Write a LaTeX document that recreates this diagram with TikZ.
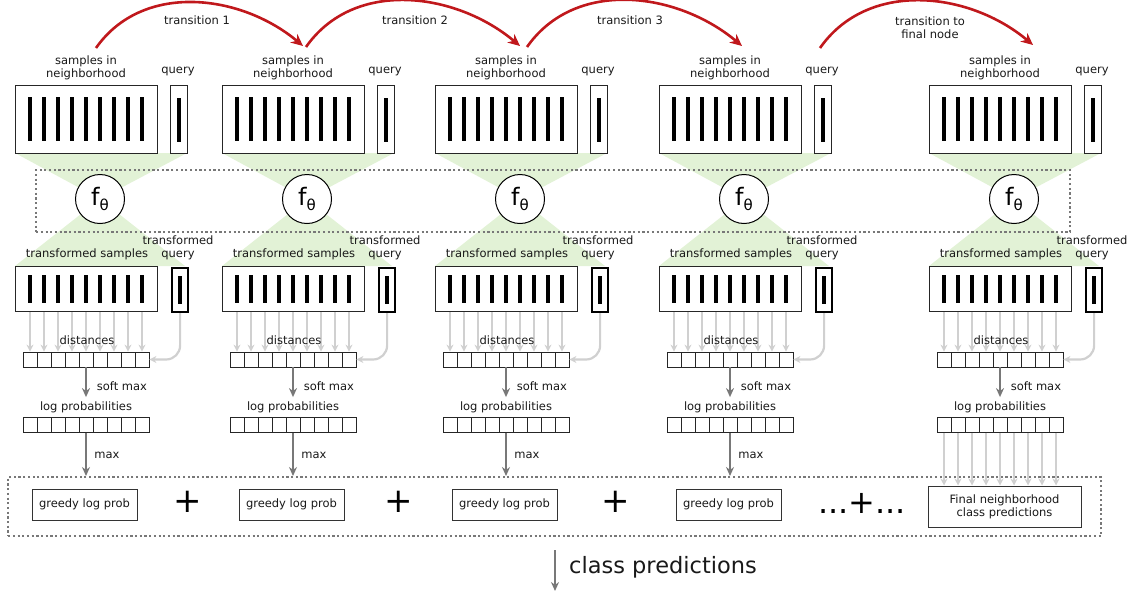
\documentclass[tikz,border=0pt]{standalone}
\usepackage{fontspec}
\setmainfont{DejaVu Sans}
\usetikzlibrary{arrows.meta}
\definecolor{gfill}{RGB}{226,242,214}
\definecolor{redarc}{RGB}{192,24,28}
\definecolor{dgray}{RGB}{120,120,120}
\definecolor{lgray}{RGB}{208,208,208}
\definecolor{txt}{RGB}{25,25,25}
\begin{document}
\begin{tikzpicture}[x=1pt,y=-1pt,font=\fontsize{11.5}{13}\selectfont,
  lbl/.style={text=txt,inner sep=0pt,align=center},
  sbox/.style={draw=black!85,line width=1pt,fill=white,minimum width=142pt,minimum height=68pt,inner sep=0pt,anchor=north west},
  qbox/.style={draw=black!85,line width=1pt,fill=white,minimum width=17pt,minimum height=68pt,inner sep=0pt,anchor=north west},
  tbox/.style={sbox,minimum height=45pt},
  tqbox/.style={draw=black,line width=2.2pt,fill=white,minimum width=16pt,minimum height=44pt,inner sep=0pt,anchor=north west},
  bar/.style={fill=black,inner sep=0pt,minimum width=4.7pt,minimum height=44pt},
  cell/.style={draw=black!85,line width=0.8pt,minimum width=14pt,minimum height=15pt,inner sep=0pt},
  fnode/.style={circle,draw=black,line width=1pt,fill=white,minimum size=49pt,inner sep=0pt},
  gbox/.style={draw=black!80,line width=1pt,fill=white,minimum width=105pt,minimum height=31pt,inner sep=0pt,text=txt},
  dotbox/.style={draw=dgray,line width=2.2pt,dash pattern=on 2.2pt off 2.5pt,inner sep=0pt,anchor=north west},
  darrow/.style={draw=dgray,line width=2.5pt,-{Stealth[length=9pt,width=8pt]}},
  larrow/.style={draw=lgray,line width=2.2pt,-{Stealth[length=7pt,width=7pt]}},
  rarrow/.style={draw=redarc,line width=2.6pt,-{Stealth[length=12pt,width=11pt]}},
  plusnode/.style={text=black,inner sep=0pt,font=\fontsize{34}{34}\selectfont},
]
\useasboundingbox (0,0) rectangle (1131,592);
% green hourglasses
\foreach \x/\i in {15/1,222/2,435/3,659/4,929/5} {
  \fill[gfill] (\x,153) -- ({\x+172},153) -- ({\x+85},199) -- cycle;
  \fill[gfill] ({\x+85},199) -- (\x,266) -- ({\x+170},266) -- cycle;
}
% dotted band around f_theta
\node[dotbox,minimum width=1034pt,minimum height=62pt] (fband) at (35,169) {};
% bottom dotted box
\node[dotbox,minimum width=1093pt,minimum height=59pt] (fbot) at (7,476) {};
\foreach \x/\i in {15/1,222/2,435/3,659/4,929/5} {
  \node[sbox] (s\i) at (\x,85) {};
  \node[qbox] (q\i) at ({\x+155},85) {};
  \foreach \j in {0,...,8}
    \node[bar] (sb\i-\j) at ({\x+15+14*\j},119) {};
  \node[bar,minimum width=4pt] (qb\i) at (q\i.center) {};
  \node[lbl] (sl\i) at ({\x+71},67.5) {samples in\\neighborhood};
  \node[lbl] (ql\i) at ({\x+163},71) {query};
  \node[fnode] (f\i) at ({\x+85},199) {\fontsize{24}{24}\selectfont f\raisebox{-5pt}{\fontsize{15}{15}\selectfont θ}};
  \node[tbox] (t\i) at (\x,266) {};
  \node[tqbox] (tq\i) at ({\x+156},267) {};
  \foreach \j in {0,...,8}
    \node[bar,minimum height=28pt] (tb\i-\j) at ({\x+15+14*\j},289) {};
  \node[bar,minimum width=4pt,minimum height=28pt] (tqb\i) at (tq\i.center) {};
  \node[lbl] (tl\i) at ({\x+72},254) {transformed samples};
  \node[lbl] (tql\i) at ({\x+163},248) {transformed\\query};
  \foreach \j in {0,...,8} {
    \node[cell] (d\i-\j) at ({\x+15+14*\j},359.5) {};
    \node[cell] (l\i-\j) at ({\x+15+14*\j},425) {};
    \draw[larrow] (tb\i-\j.south |- t\i.south) -- (d\i-\j.north);
  }
  \draw[larrow,rounded corners=14pt] (tq\i.south) |- (d\i-8.east);
  \node[lbl] (dl\i) at ({\x+72},340) {distances};
  \draw[darrow,shorten >=20pt] (d\i-4.south) -- (l\i-4.north);
  \node[lbl] (sm\i) at ({\x+107},386) {soft max};
  \node[lbl] (lp\i) at ({\x+71},407) {log probabilities};
}
% greedy boxes and max arrows
\foreach \x/\i in {15/1,222/2,435/3,659/4} {
  \node[gbox] (g\i) at ({\x+69.5},504.5) {greedy log prob};
  \draw[darrow] (l\i-4.south) -- (l\i-4.south |- fbot.north);
  \node[lbl] (mx\i) at ({\x+92},455) {max};
}
\node[gbox,minimum width=153pt,minimum height=41pt,align=center] (final) at (1004.5,506.5) {Final neighborhood\\class predictions};
\foreach \j in {0,...,8}
  \draw[larrow] (l5-\j.south) -- (l5-\j.south |- final.north);
% plus signs
\node[plusnode] (p1) at (188,502) {+};
\node[plusnode] (p2) at (399,502) {+};
\node[plusnode] (p3) at (616,502) {+};
\node[plusnode,font=\fontsize{32}{32}\selectfont] (p4) at (862,503) {...+...};
% class predictions
\coordinate (cpa) at (555,550);
\coordinate (cpb) at (555,591);
\draw[darrow] (cpa) -- (cpb);
\node[lbl,anchor=west,font=\fontsize{22.5}{24}\selectfont] (cpl) at (569,567) {class predictions};
% transitions
\coordinate (a1s) at (96,48);  \coordinate (a1e) at (303,46);
\coordinate (a2s) at (306,47); \coordinate (a2e) at (520,46);
\coordinate (a3s) at (527,47); \coordinate (a3e) at (742,46);
\coordinate (a4s) at (820,48); \coordinate (a4e) at (1033,45);
\draw[rarrow] (a1s) to[out=55,in=140] (a1e);
\draw[rarrow] (a2s) to[out=55,in=140] (a2e);
\draw[rarrow] (a3s) to[out=55,in=140] (a3e);
\draw[rarrow] (a4s) to[out=55,in=140] (a4e);
\node[lbl] (tr1) at (197,20) {transition 1};
\node[lbl] (tr2) at (415,20) {transition 2};
\node[lbl] (tr3) at (630,20) {transition 3};
\node[lbl] (tr4) at (930,27.5) {transition to\\final node};
\end{tikzpicture}
\end{document}
